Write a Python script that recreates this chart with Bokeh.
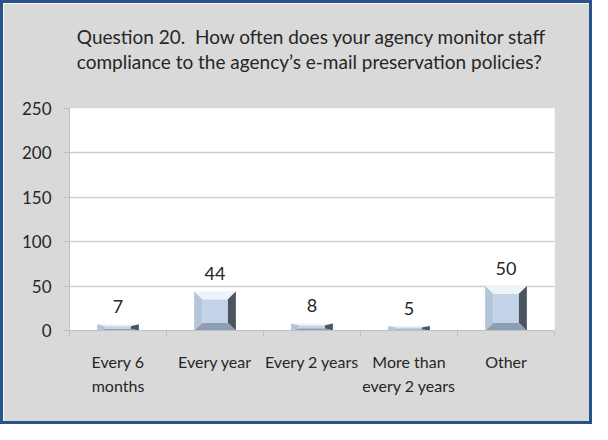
from bokeh.plotting import figure
from bokeh.models import Range1d, FixedTicker, ColumnDataSource, Title
from bokeh.core.properties import value
from bokeh.embed import file_html
from bokeh.resources import INLINE

# ---- data ----
title_lines = [
    "Question 20.\u00a0 How often does your agency monitor staff",
    "compliance to the agency\u2019s e-mail preservation policies?",
]
categories = ["Every 6\nmonths", "Every year", "Every 2 years", "More than\nevery 2 years", "Other"]
counts = [7, 44, 8, 5, 50]
y_ticks = [0, 50, 100, 150, 200, 250]
y_max = 250

FONT = "Lato"
TXT = "#262626"
W, H = 592, 424

p = figure(width=W, height=H, output_backend="svg", toolbar_location=None,
           x_range=Range1d(0, len(categories)), y_range=Range1d(0, y_max),
           min_border_left=66, min_border_right=41, min_border_top=105, min_border_bottom=97,
           background_fill_color="white", border_fill_color="#d9d9d9",
           outline_line_color=None)

p.title.text = "\n".join(title_lines)
p.title.align = "center"
p.title.text_font = FONT
p.title.text_font_size = "19px"
p.title.text_font_style = "normal"
p.title.text_color = TXT
p.title.text_line_height = 1.1
p.title.standoff = 0

# spacer between the chart title and the plot area
spacer = Title(text="\u00a0", text_font_size="1px", standoff=32)
p.add_layout(spacer, "above")
p.styles = {"border": "3px solid #2a5188", "box-sizing": "border-box"}

# axes
yax = p.yaxis[0]
yax.ticker = FixedTicker(ticks=y_ticks, minor_ticks=[])
yax.major_tick_out = 6
yax.major_tick_in = 0
yax.minor_tick_line_color = None
yax.axis_line_color = "#bfbfbf"
yax.major_tick_line_color = "#bfbfbf"
yax.major_label_standoff = 12
yax.major_label_text_font = FONT
yax.major_label_text_font_size = "17px"
yax.major_label_text_color = TXT

centers = [i + 0.5 for i in range(len(categories))]
xax = p.xaxis[0]
xax.ticker = FixedTicker(ticks=centers, minor_ticks=list(range(len(categories) + 1)))
xax.major_label_overrides = {c: lab for c, lab in zip(centers, categories)}
xax.major_tick_line_color = None
xax.major_tick_out = 0
xax.major_tick_in = 0
xax.minor_tick_out = 6
xax.minor_tick_in = 0
xax.minor_tick_line_color = "#bfbfbf"
xax.axis_line_color = "#bfbfbf"
xax.major_label_standoff = 15
xax.major_label_text_font = FONT
xax.major_label_text_font_size = "16px"
xax.major_label_text_color = TXT
xax.major_label_text_line_height = 1.3

p.xgrid.visible = False
p.ygrid.ticker = FixedTicker(ticks=y_ticks, minor_ticks=[])
p.ygrid.grid_line_color = "#cfcfcf"
p.ygrid.grid_line_width = 1.5

# ---- beveled bars ----
half_w = 0.215
bev_x = 0.085
xs, ys, cols = [], [], []
shade = {"face": "#c3d3e7", "top": "#eef3fa", "left": "#b4c4d9",
         "right": "#4b5461", "bottom": "#8e9eb3"}
for c, v in zip(centers, counts):
    by = min(9.0, v * 0.3)
    l, r = c - half_w, c + half_w
    il, ir = l + bev_x, r - bev_x
    parts = {
        "top": ([l, r, ir, il], [v, v, v - by, v - by]),
        "bottom": ([l, r, ir, il], [0, 0, by, by]),
        "left": ([l, l, il, il], [0, v, v - by, by]),
        "right": ([r, r, ir, ir], [0, v, v - by, by]),
        "face": ([il, ir, ir, il], [by, by, v - by, v - by]),
    }
    for k, (px, py) in parts.items():
        xs.append(px)
        ys.append(py)
        cols.append(shade[k])

src = ColumnDataSource(dict(xs=xs, ys=ys, color=cols))
p.patches("xs", "ys", fill_color="color", line_color=None, source=src)

# value labels
p.text(x=centers, y=counts, text=[str(v) for v in counts], text_align="center",
       text_baseline="bottom", y_offset=-11, text_font=value(FONT),
       text_font_size="18px", text_color=TXT)

open("out.html", "w").write(file_html(p, INLINE))
